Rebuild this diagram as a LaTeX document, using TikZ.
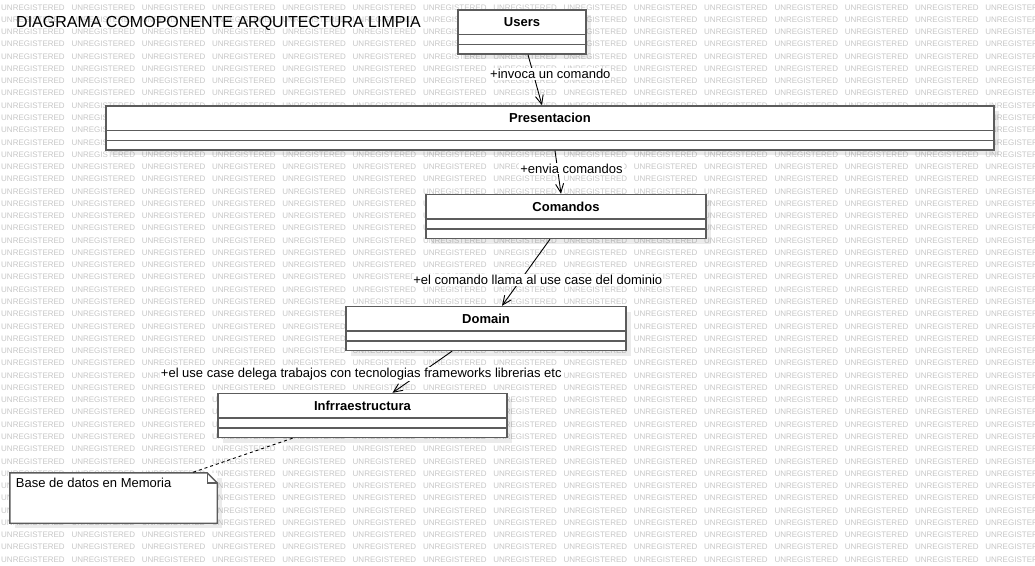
\documentclass[tikz,border=0pt]{standalone}
\usepackage{fontspec}
\setmainfont{Liberation Sans}
\usetikzlibrary{calc}
\usetikzlibrary{shadows}
\usetikzlibrary{arrows.meta}
\definecolor{edge}{rgb}{0.36,0.36,0.36}
\definecolor{wmark}{rgb}{0.78,0.78,0.78}

\begin{document}
\begin{tikzpicture}[x=1pt, y=-1pt,
		b/.style = {rectangle, draw=edge, fill=white, line width=1.4pt, minimum height=44pt, inner sep=0pt,
			drop shadow={shadow xshift=5pt, shadow yshift=-5pt, fill=black, opacity=0.08}},
		t/.style = {anchor=north, minimum height=25pt, inner sep=0pt, font=\fontsize{13}{15}\selectfont\bfseries},
		n/.style = {rectangle, fill=white, minimum width=207pt, minimum height=50pt, inner sep=0pt,
			drop shadow={shadow xshift=5pt, shadow yshift=-5pt, fill=black, opacity=0.08}},
		l/.style = {fill=white, inner sep=1pt, font=\fontsize{13}{15}\selectfont},
		w/.style = {anchor=west, inner sep=0pt, text=wmark, font=\fontsize{8}{9}\selectfont},
		r/.style = {-{Straight Barb[length=9pt, width=8pt]}, line width=0.9pt},
		d/.style = {line width=0.9pt, dash pattern=on 3pt off 3pt}
		]
		\useasboundingbox (0,0) rectangle (1035,565);
		\fill[white] (0,0) rectangle (1035,565);
		
		%Watermark
		\begin{scope}
			\clip (0,0) rectangle (1035,565);
			\foreach \i in {0,...,45}
				\foreach \j in {0,...,14}
					\node[w] at (\j*70.3+1, \i*12.27+7.3) {UNREGISTERED};
		\end{scope}
		
		%Title
		\node[anchor=base west, inner sep=0pt, font=\fontsize{16}{18}\selectfont] (title) at (16,27) {DIAGRAMA COMOPONENTE ARQUITECTURA LIMPIA};
		
		%Nodes
		\node[b, minimum width=128pt]	(users)		at	(522, 32)		{};
		\node[b, minimum width=888pt]	(pres)		at	(550, 128)		{};
		\node[b, minimum width=280pt]	(comandos)	at	(566, 216.5)	{};
		\node[b, minimum width=280pt]	(domain)	at	(486, 328.5)	{};
		\node[b, minimum width=289pt]	(infra)		at	(362.5, 415.5)	{};
		\node[n]						(note)		at	(113.5, 498)	{};
		
		\node[t]	(users-t)		at	(users.north)		{Users};
		\node[t]	(pres-t)		at	(pres.north)		{Presentacion};
		\node[t]	(comandos-t)	at	(comandos.north)	{Comandos};
		\node[t]	(domain-t)		at	(domain.north)		{Domain};
		\node[t]	(infra-t)		at	(infra.north)		{Infrraestructura};
		
		%Compartments
		\foreach \c in {users, pres, comandos, domain, infra} {
			\draw[edge, line width=1.4pt] ([yshift=-25pt]\c.north west) -- ([yshift=-25pt]\c.north east);
			\draw[edge, line width=1.4pt] ([yshift=-35pt]\c.north west) -- ([yshift=-35pt]\c.north east);
		}
		
		%Note
		\draw[edge, line width=1.4pt, line join=miter] (note.north west) -- ([xshift=-10pt]note.north east) -- ([yshift=-10pt]note.north east)
			-- (note.south east) -- (note.south west) -- cycle;
		\draw[edge, line width=1.4pt] ([xshift=-10pt]note.north east) |- ([yshift=-10pt]note.north east);
		\node[anchor=north west, inner sep=0pt, font=\fontsize{13}{15}\selectfont] (note-t) at ([xshift=6pt, yshift=-5pt]note.north west) {Base de datos en Memoria};
		
		%Lines
		\draw[r]	([xshift=6pt]users.south)		to	node[l, pos=.38, xshift=17pt]	{+invoca un comando}	([xshift=-8pt]pres.north);
		\draw[r]	([xshift=5pt]pres.south)		to	node[l, pos=.41, xshift=14pt]	{+envia comandos}		([xshift=-5pt]comandos.north);
		\draw[r]	([xshift=-16pt]comandos.south)	to	node[l, pos=.61, xshift=17pt]	{+el comando llama al use case del dominio}	([xshift=16pt]domain.north);
		\draw[r]	([xshift=-34pt]domain.south)	to	node[l, pos=.55, xshift=-58pt]	{+el use case delega trabajos con tecnologias frameworks librerias etc}	([xshift=30pt]infra.north);
		\draw[d]	([xshift=-70pt]infra.south)		--	([xshift=78pt]note.north);
	\end{tikzpicture}
\end{document}
